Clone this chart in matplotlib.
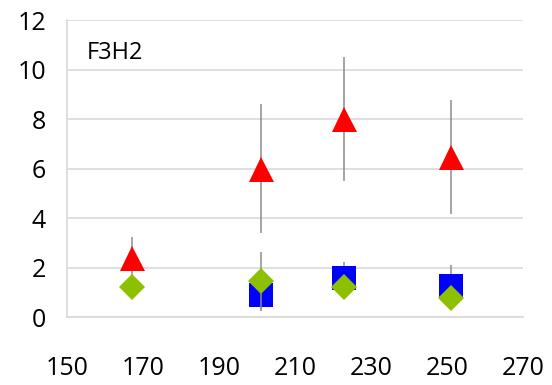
import matplotlib
matplotlib.use("Agg")
import matplotlib.pyplot as plt

# Temperature-like x positions and measured values per series
x_tri = [167, 201, 223, 251]
y_tri = [2.4, 6.0, 8.0, 6.45]
e_tri = [0.83, 2.6, 2.5, 2.3]

x_sq = [201, 223, 251]
y_sq = [0.9, 1.58, 1.25]
e_sq = [0.66, 0.64, 0.85]

x_dia = [167, 201, 223, 251]
y_dia = [1.2, 1.47, 1.2, 0.77]
e_dia = [0.0, 1.15, 0.0, 0.0]

xticks = [150, 170, 190, 210, 230, 250, 270]
yticks = [0, 2, 4, 6, 8, 10, 12]
title = "F3H2"

plt.rcParams['font.family'] = ['Open Sans', 'DejaVu Sans']

fig = plt.figure(figsize=(5.52, 3.85), dpi=100)
ax = fig.add_axes([0.1214, 0.1766, 0.826, 0.7714])

ax.set_xlim(150, 270)
ax.set_ylim(0, 12)
ax.set_xticks(xticks)
ax.set_yticks(yticks)
ax.tick_params(axis='both', length=0, labelsize=18)
ax.tick_params(axis='x', pad=28)
ax.tick_params(axis='y', pad=15)

ax.grid(axis='y', color='#D9D9D9', linewidth=1.2)
ax.set_axisbelow(True)
for s in ['top', 'right']:
    ax.spines[s].set_visible(False)
for s in ['left', 'bottom']:
    ax.spines[s].set_color('#D9D9D9')
    ax.spines[s].set_linewidth(1.2)

ebar = dict(ecolor='#8C8C8C', elinewidth=1.1, capsize=2, capthick=1.1, linestyle='none')

ax.errorbar(x_tri, y_tri, yerr=e_tri, marker='^', markersize=18,
            color='#FF0000', markeredgewidth=0, zorder=3, **ebar)
ax.errorbar(x_sq, y_sq, yerr=e_sq, marker='s', markersize=17.5,
            color='#0000FF', markeredgewidth=0, zorder=4, **ebar)
ax.errorbar(x_dia, y_dia, yerr=e_dia, marker='D', markersize=13.5,
            color='#8DC000', markeredgewidth=0, zorder=5, **ebar)

ax.text(0.044, 0.93, title, transform=ax.transAxes, fontsize=17,
        va='top', ha='left')

fig.savefig("out.png", dpi=100)
